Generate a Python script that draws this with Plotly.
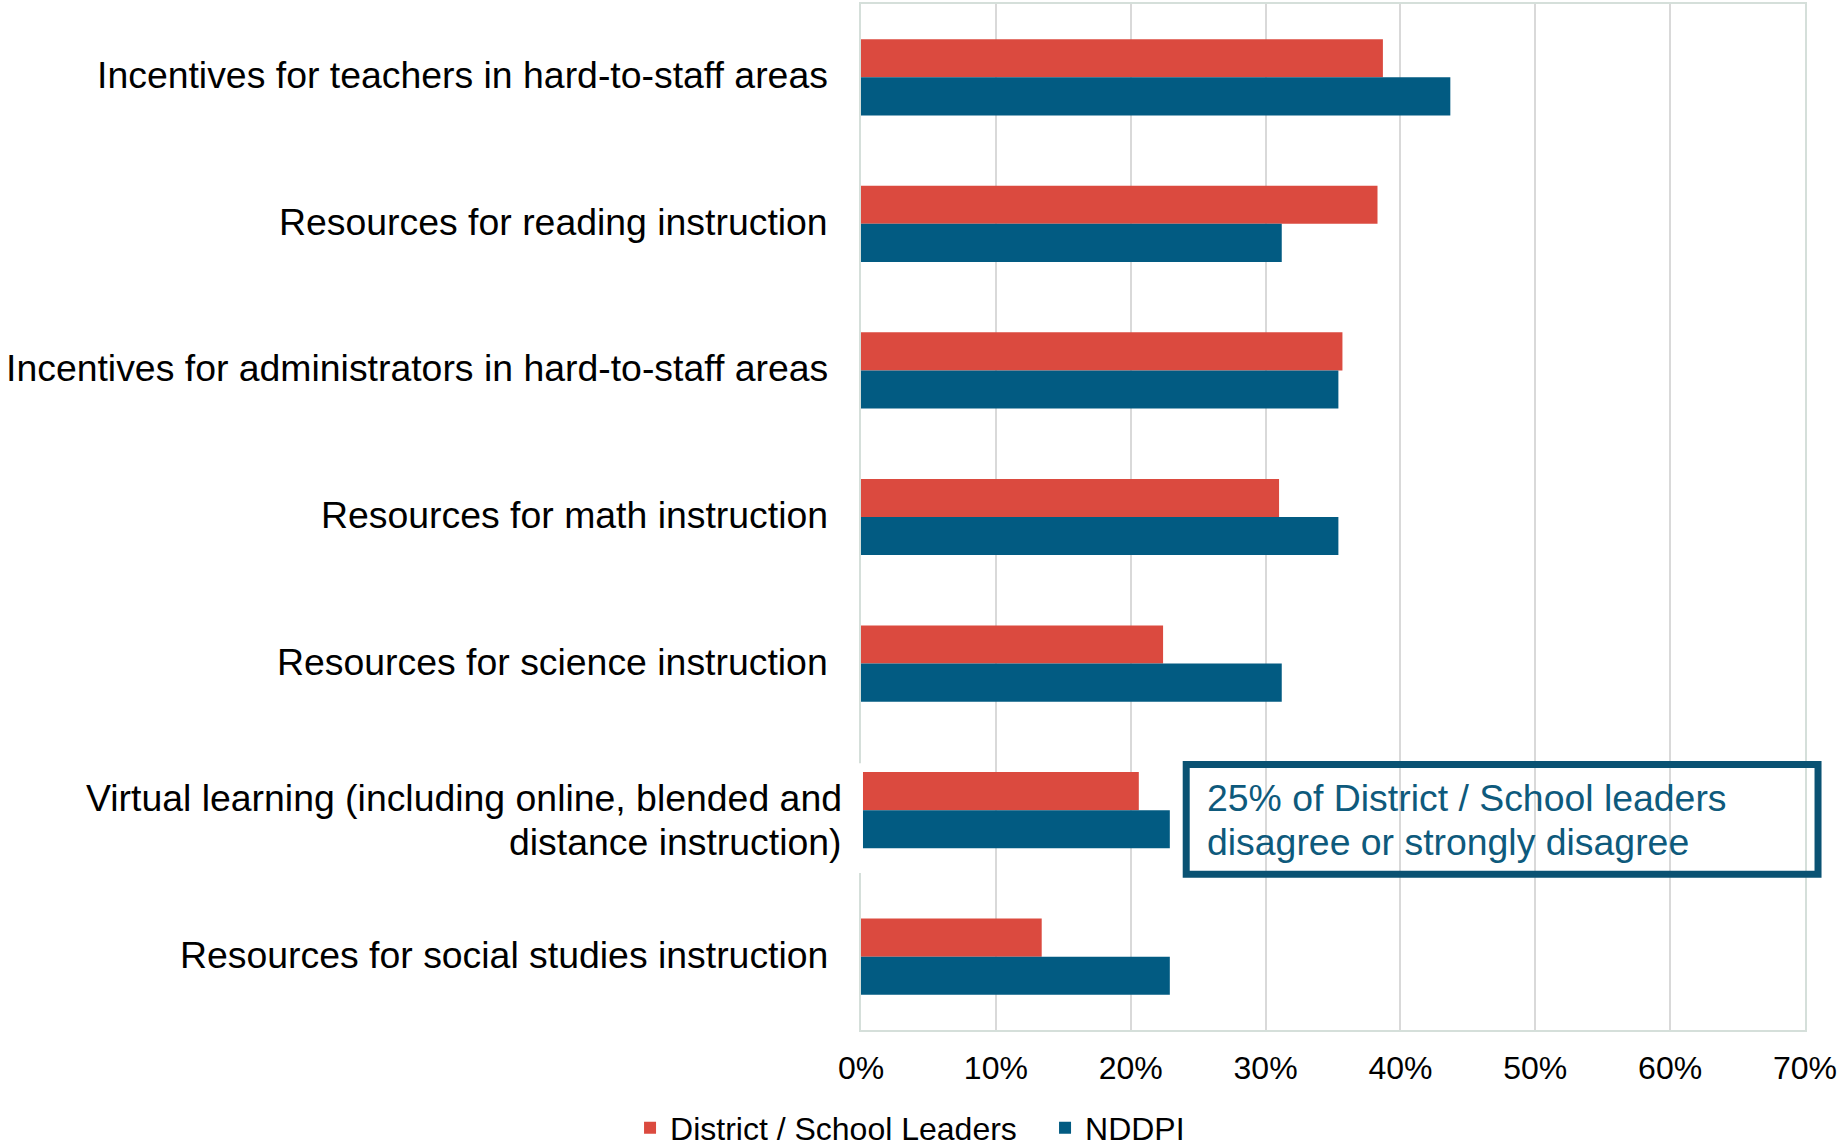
import plotly.graph_objects as go

categories = [
    "Incentives for teachers in hard-to-staff areas",
    "Resources for reading instruction",
    "Incentives for administrators in hard-to-staff areas",
    "Resources for math instruction",
    "Resources for science instruction",
    "Virtual learning (including online, blended and distance instruction)",
    "Resources for social studies instruction",
]
# label lines as shown on the slide (one list of lines per category)
category_label_lines = [
    ["Incentives for teachers in hard-to-staff areas"],
    ["Resources for reading instruction"],
    ["Incentives for administrators in hard-to-staff areas"],
    ["Resources for math instruction"],
    ["Resources for science instruction"],
    ["Virtual learning (including online, blended and", "distance instruction)"],
    ["Resources for social studies instruction"],
]
district_school_leaders = [38.7, 38.3, 35.7, 31.0, 22.4, 20.6, 13.4]
nddpi = [43.7, 31.2, 35.4, 35.4, 31.2, 22.9, 22.9]
x_ticks = [0, 10, 20, 30, 40, 50, 60, 70]
x_tick_labels = ["0%", "10%", "20%", "30%", "40%", "50%", "60%", "70%"]
series_names = ["District / School Leaders", "NDDPI"]
callout_lines = ["25% of District / School leaders", "disagree or strongly disagree"]

RED = "#DB4A3F"
BLUE = "#025B82"
FONT = "Arial, Liberation Sans, sans-serif"

fig = go.Figure()
fig.add_trace(go.Bar(
    y=categories, x=district_school_leaders, name=series_names[0], orientation="h",
    marker=dict(color=RED, line=dict(width=0)),
))
fig.add_trace(go.Bar(
    y=categories, x=nddpi, name=series_names[1], orientation="h",
    marker=dict(color=BLUE, line=dict(width=0)),
))

annotations = []
for cat, lines in zip(categories, category_label_lines):
    if len(lines) == 1:
        annotations.append(dict(
            x=0, xref="paper", y=cat, yref="y", text=lines[0], showarrow=False,
            xanchor="right", yanchor="middle", align="right", xshift=-31, yshift=2,
            font=dict(family=FONT, size=37.4, color="#000000"),
        ))
    else:
        for line, ys in zip(lines, [12.5, -32.0]):
            annotations.append(dict(
                x=0, xref="paper", y=cat, yref="y", text=line, showarrow=False,
                xanchor="right", yanchor="middle", align="right", xshift=-17, yshift=ys,
                font=dict(family=FONT, size=37.4, color="#000000"),
            ))

# callout text (two lines)
for line, yp in zip(callout_lines, [0.2265, 0.1832]):
    annotations.append(dict(
        x=0.364, xref="paper", y=yp, yref="paper", text=line,
        showarrow=False, xanchor="left", yanchor="middle", align="left",
        font=dict(family=FONT, size=37.4, color="#0E5A7C"),
    ))
# page number (cut off at slide edge)
annotations.append(dict(
    x=1.0297, xref="paper", y=-0.1115, yref="paper", text="3",
    showarrow=False, xanchor="center", yanchor="top",
    font=dict(family=FONT, size=20, color="#222222"),
))

shapes = [
    # callout box
    dict(type="rect", xref="paper", yref="paper", x0=0.3445, x1=1.0138,
         y0=0.1517, y1=0.2587, line=dict(color="#0A5273", width=7),
         fillcolor="rgba(0,0,0,0)", layer="above"),
    # white gap behind two-line label
    dict(type="rect", xref="paper", yref="paper", x0=-0.0117, x1=0.0021,
         y0=0.153, y1=0.260, line=dict(width=0), fillcolor="white", layer="above"),
]

fig.update_layout(
    width=1839, height=1148,
    margin=dict(l=861, r=34, t=2, b=118),
    paper_bgcolor="white", plot_bgcolor="white",
    barmode="group", bargap=0.48, bargroupgap=0,
    font=dict(family=FONT, size=32, color="#000000"),
    showlegend=True,
    legend=dict(
        orientation="h", xref="container", yref="container",
        x=0.3426, xanchor="left", y=0.0174, yanchor="middle",
        font=dict(family=FONT, size=32, color="#000000"),
        itemwidth=30, traceorder="normal", bgcolor="rgba(0,0,0,0)",
        entrywidth=370, entrywidthmode="pixels",
    ),
    annotations=annotations,
    shapes=shapes,
)
fig.update_xaxes(
    range=[0, 70], tickvals=x_ticks, ticktext=x_tick_labels,
    showgrid=True, gridcolor="#D9D9D9", gridwidth=1.5,
    zeroline=False, showline=True, mirror=True, linecolor="#D5DFDA", linewidth=2,
    ticks="", ticklabelstandoff=9,
    tickfont=dict(family=FONT, size=32, color="#000000"),
)
fig.update_yaxes(
    type="category", categoryorder="array", categoryarray=categories,
    autorange="reversed", showticklabels=False, showgrid=False,
    zeroline=False, showline=True, mirror=True, linecolor="#D5DFDA", linewidth=2,
    ticks="",
)

fig.write_html(
    "out.html",
    config={"displayModeBar": False},
    post_script="document.body.style.margin='0px';",
)
